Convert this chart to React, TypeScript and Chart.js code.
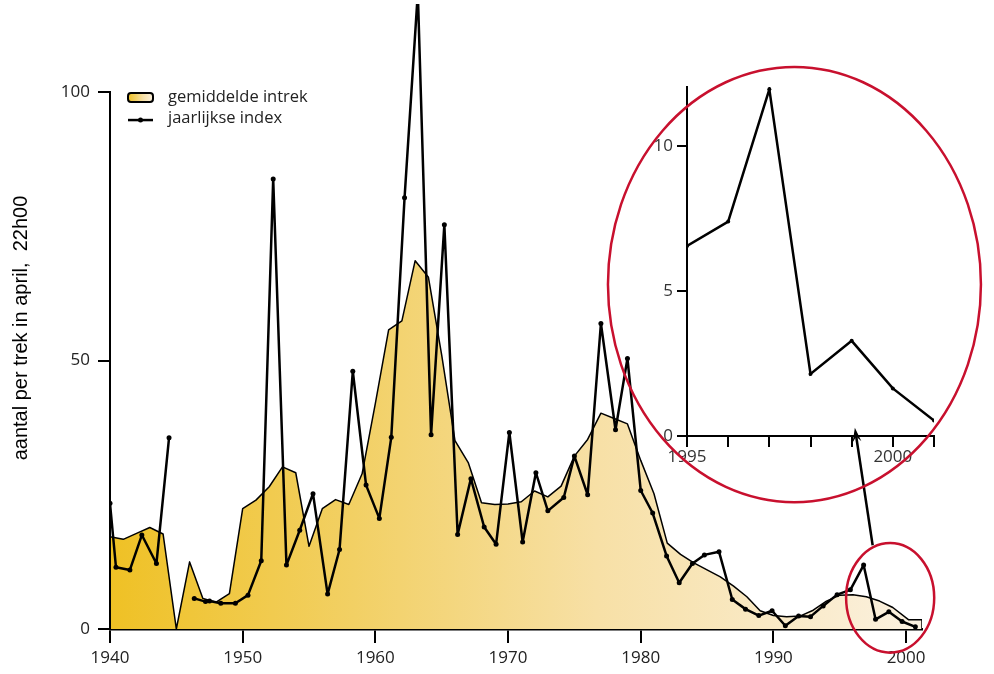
import React, { useEffect, useRef } from "react";
import { Chart, registerables } from "chart.js";

Chart.register(...registerables);

// ---- data: gemiddelde intrek (smoothed mean) ----
const areaYears = [1940, 1941, 1942, 1943, 1944, 1945, 1946, 1947, 1948, 1949, 1950, 1951, 1952, 1953, 1954, 1955, 1956, 1957, 1958, 1959, 1960, 1961, 1962, 1963, 1964, 1965, 1966, 1967, 1968, 1969, 1970, 1971, 1972, 1973, 1974, 1975, 1976, 1977, 1978, 1979, 1980, 1981, 1982, 1983, 1984, 1985, 1986, 1987, 1988, 1989, 1990, 1991, 1992, 1993, 1994, 1995, 1996, 1997, 1998, 1999, 2000.2, 2001.2, 2001.2];
const areaValues = [17.2, 16.7, 17.8, 18.9, 17.7, 0, 12.5, 5.7, 5.0, 6.6, 22.4, 24.0, 26.5, 30.2, 29.1, 15.4, 22.4, 24.1, 23.2, 28.9, 42.0, 55.7, 57.4, 68.6, 65.5, 51.0, 35.1, 31.0, 23.5, 23.2, 23.3, 23.7, 25.7, 24.6, 26.6, 32.2, 35.3, 40.2, 39.2, 38.2, 31.4, 25.2, 16.0, 13.9, 12.3, 11.0, 9.7, 8.0, 6.0, 3.4, 2.5, 2.3, 2.4, 3.5, 5.2, 6.3, 6.4, 6.0, 5.2, 4.0, 1.7, 1.7, 0];

// ---- data: jaarlijkse index (yearly index), positions ----
const indexYears = [1940.0, 1940.45, 1941.5, 1942.4, 1943.5, 1944.45, 1945.4, 1946.35, 1947.2, 1947.5, 1948.35, 1949.45, 1950.4, 1951.4, 1952.3, 1953.3, 1954.3, 1955.3, 1956.4, 1957.3, 1958.3, 1959.3, 1960.3, 1961.2, 1962.2, 1963.2, 1964.2, 1965.2, 1966.2, 1967.2, 1968.2, 1969.1, 1970.1, 1971.1, 1972.1, 1973.0, 1974.2, 1975.0, 1976.0, 1977.0, 1978.1, 1979.0, 1980.0, 1980.9, 1981.95, 1982.9, 1983.9, 1984.8, 1985.9, 1986.9, 1987.9, 1988.9, 1989.9, 1990.9, 1991.9, 1992.8, 1993.75, 1994.8, 1995.8, 1996.8, 1997.7, 1998.7, 1999.7, 2000.7];
const indexValues: (number | null)[] = [23.4, 11.5, 11.0, 17.5, 12.2, 35.6, null, 5.7, 5.1, 5.2, 4.8, 4.8, 6.3, 12.7, 83.8, 11.9, 18.4, 25.2, 6.5, 14.8, 48.0, 26.8, 20.6, 35.7, 80.3, 118.5, 36.2, 75.3, 17.6, 28.0, 19.0, 15.8, 36.6, 16.2, 29.1, 22.0, 24.5, 32.2, 25.0, 56.9, 37.1, 50.4, 25.8, 21.6, 13.6, 8.6, 12.2, 13.8, 14.4, 5.5, 3.7, 2.5, 3.4, 0.6, 2.4, 2.3, 4.3, 6.4, 7.3, 11.9, 1.8, 3.2, 1.4, 0.4];

const xTicks = [1940, 1950, 1960, 1970, 1980, 1990, 2000];
const yTicks = [0, 50, 100];

// ---- inset (1995-2001) ----
const insetYears = [1995, 1996, 1997, 1998, 1999, 2000, 2001];
const insetValues = [6.55, 7.39, 11.95, 2.14, 3.28, 1.64, 0.53];
const insetXTicks = [1995, 1996, 1997, 1998, 1999, 2000, 2001];
const insetXLabels = [1995, 2000];
const insetYTicks = [0, 5, 10];

const legendLabels = ["gemiddelde intrek", "jaarlijkse index"];
const yTitle = "aantal per trek in april,  22h00";

const TICK_FONT = { family: "'Open Sans', 'Noto Sans', sans-serif", size: 17 };
const RED = "#c8102e";

function makeGradient(ctx: CanvasRenderingContext2D, left: number, right: number) {
  const g = ctx.createLinearGradient(left, 0, right, 0);
  g.addColorStop(0, "#efc125");
  g.addColorStop(0.3, "#f2d064");
  g.addColorStop(0.6, "#f7e0a6");
  g.addColorStop(1, "#fbf1e0");
  return g;
}

export default function App() {
  const mainRef = useRef<HTMLCanvasElement>(null);
  const insetRef = useRef<HTMLCanvasElement>(null);

  useEffect(() => {
    const mainCanvas = mainRef.current!;
    const insetCanvas = insetRef.current!;

    const mainPlugin = {
      id: "mainDecor",
      afterDraw(chart: any) {
        const ctx: CanvasRenderingContext2D = chart.ctx;
        const xs = chart.scales.x;
        const ys = chart.scales.y;
        const area = chart.chartArea;
        ctx.save();
        // y axis line from 0 to 100
        ctx.strokeStyle = "#000";
        ctx.lineWidth = 2;
        ctx.beginPath();
        ctx.moveTo(area.left, ys.getPixelForValue(0) + 1);
        ctx.lineTo(area.left, ys.getPixelForValue(100) - 1);
        ctx.stroke();

        // legend
        const lx = area.left + 18;
        const ly1 = ys.getPixelForValue(100) + 5;
        const ly2 = ly1 + 23;
        ctx.beginPath();
        (ctx as any).roundRect(lx, ly1 - 4, 25, 9, 3);
        ctx.fillStyle = makeGradient(ctx, lx, lx + 25);
        ctx.fill();
        ctx.lineWidth = 2;
        ctx.strokeStyle = "#000";
        ctx.stroke();
        ctx.beginPath();
        ctx.lineWidth = 2.5;
        ctx.moveTo(lx, ly2);
        ctx.lineTo(lx + 25, ly2);
        ctx.stroke();
        ctx.beginPath();
        ctx.arc(lx + 12.5, ly2, 2.5, 0, Math.PI * 2);
        ctx.fillStyle = "#000";
        ctx.fill();
        ctx.font = "16.5px 'Open Sans', 'Noto Sans', sans-serif";
        ctx.fillStyle = "#222";
        ctx.textBaseline = "middle";
        ctx.textAlign = "left";
        ctx.fillText(legendLabels[0], lx + 40, ly1);
        ctx.fillText(legendLabels[1], lx + 40, ly2 - 2);

        // y title
        ctx.save();
        ctx.translate(21, 328);
        ctx.rotate(-Math.PI / 2);
        ctx.font = "20px 'Liberation Sans', Arial, sans-serif";
        ctx.fillStyle = "#000";
        ctx.textAlign = "center";
        ctx.textBaseline = "middle";
        ctx.fillText(yTitle, 0, 0);
        ctx.restore();

        // small ellipse around 1996-2001
        const cx = xs.getPixelForValue(1998.8);
        const cy = ys.getPixelForValue(5.8);
        const rx = xs.getPixelForValue(1998.8 + 3.32) - cx;
        const ry = cy - ys.getPixelForValue(5.8 + 10.2);
        ctx.beginPath();
        ctx.ellipse(cx, cy, rx, ry, 0, 0, Math.PI * 2);
        ctx.strokeStyle = RED;
        ctx.lineWidth = 2.5;
        ctx.stroke();

        // arrow
        const ax0 = xs.getPixelForValue(1997.48);
        const ay0 = ys.getPixelForValue(15.6);
        const ax1 = xs.getPixelForValue(1996.14);
        const ay1 = ys.getPixelForValue(37.5);
        ctx.strokeStyle = "#000";
        ctx.lineWidth = 2.5;
        ctx.beginPath();
        ctx.moveTo(ax0, ay0);
        ctx.lineTo(ax1 + (ax0 - ax1) * 0.05, ay1 + (ay0 - ay1) * 0.05);
        ctx.stroke();
        const ang = Math.atan2(ay1 - ay0, ax1 - ax0);
        const hl = 15;
        ctx.beginPath();
        ctx.moveTo(ax1, ay1);
        ctx.lineTo(ax1 - hl * Math.cos(ang - 0.3), ay1 - hl * Math.sin(ang - 0.3));
        ctx.lineTo(ax1 - hl * 0.6 * Math.cos(ang), ay1 - hl * 0.6 * Math.sin(ang));
        ctx.lineTo(ax1 - hl * Math.cos(ang + 0.3), ay1 - hl * Math.sin(ang + 0.3));
        ctx.closePath();
        ctx.fillStyle = "#000";
        ctx.fill();
        ctx.restore();
      },
    };

    const main = new Chart(mainCanvas, {
      type: "line",
      data: {
        datasets: [
          {
            label: legendLabels[1],
            data: indexYears.map((x, i) => ({ x, y: indexValues[i] })) as any,
            borderColor: "#000",
            borderWidth: 2.5,
            borderJoinStyle: "round",
            pointRadius: 2.5,
            pointBackgroundColor: "#000",
            pointBorderWidth: 0,
            fill: false,
            spanGaps: false,
            tension: 0,
            order: 1,
          },
          {
            label: legendLabels[0],
            data: areaYears.map((x, i) => ({ x, y: areaValues[i] })),
            borderColor: "#000",
            borderWidth: 1.5,
            borderJoinStyle: "round",
            pointRadius: 0,
            fill: "origin",
            tension: 0,
            order: 2,
            backgroundColor: (c: any) => {
              const a = c.chart.chartArea;
              if (!a) return "#f3d47a";
              return makeGradient(c.chart.ctx, a.left, a.right);
            },
          },
        ],
      },
      options: {
        animation: false,
        responsive: false,
        maintainAspectRatio: false,
        layout: { padding: { left: 0, right: 72, top: 0, bottom: 0 } },
        plugins: { legend: { display: false }, tooltip: { enabled: false } },
        scales: {
          x: {
            type: "linear",
            min: 1940,
            max: 2001.2,
            afterBuildTicks: (s: any) => {
              s.ticks = xTicks.map((v) => ({ value: v }));
            },
            afterFit: (s: any) => {
              s.height = 45;
            },
            grid: { drawOnChartArea: false, drawTicks: true, tickLength: 14, color: "#000", lineWidth: 2 },
            border: { display: true, color: "#000", width: 2.5 },
            ticks: {
              callback: (v: any) => String(v),
              font: TICK_FONT,
              color: "#222",
              padding: 5,
              maxRotation: 0,
              autoSkip: false,
            },
          },
          y: {
            type: "linear",
            min: 0,
            max: 116.4,
            afterBuildTicks: (s: any) => {
              s.ticks = yTicks.map((v) => ({ value: v }));
            },
            afterFit: (s: any) => {
              s.width = 110;
              s.paddingTop = 0;
              s.paddingBottom = 0;
            },
            grid: { drawOnChartArea: false, drawTicks: true, tickLength: 12, color: "#000", lineWidth: 2 },
            border: { display: false },
            ticks: {
              callback: (v: any) => String(v),
              font: TICK_FONT,
              color: "#222",
              padding: 8,
              autoSkip: false,
            },
          },
        },
      },
      plugins: [mainPlugin],
    } as any);

    const insetPlugin = {
      id: "insetDecor",
      afterDraw(chart: any) {
        const ctx: CanvasRenderingContext2D = chart.ctx;
        const xs = chart.scales.x;
        const ys = chart.scales.y;
        ctx.save();
        const cx = xs.getPixelForValue(1997.61);
        const cy = ys.getPixelForValue(5.22);
        const rx = xs.getPixelForValue(1997.61 + 4.53) - cx;
        const ry = cy - ys.getPixelForValue(5.22 + 7.5);
        ctx.beginPath();
        ctx.ellipse(cx, cy, rx, ry, 0, 0, Math.PI * 2);
        ctx.strokeStyle = RED;
        ctx.lineWidth = 2.5;
        ctx.stroke();
        ctx.restore();
      },
    };

    const inset = new Chart(insetCanvas, {
      type: "line",
      data: {
        datasets: [
          {
            data: insetYears.map((x, i) => ({ x, y: insetValues[i] })),
            borderColor: "#000",
            borderWidth: 2.5,
            pointRadius: 2,
            pointBackgroundColor: "#000",
            pointBorderWidth: 0,
            fill: false,
            tension: 0,
          },
        ],
      },
      options: {
        animation: false,
        responsive: false,
        maintainAspectRatio: false,
        layout: { padding: { left: 0, right: 60, top: 37, bottom: 0 } },
        plugins: { legend: { display: false }, tooltip: { enabled: false } },
        scales: {
          x: {
            type: "linear",
            min: 1995,
            max: 2001,
            afterBuildTicks: (s: any) => {
              s.ticks = insetXTicks.map((v) => ({ value: v }));
            },
            afterFit: (s: any) => {
              s.height = 84;
            },
            grid: { drawOnChartArea: false, drawTicks: true, tickLength: 11, color: "#000", lineWidth: 2 },
            border: { display: true, color: "#000", width: 2 },
            ticks: {
              callback: (v: any) => (insetXLabels.includes(v) ? String(v) : ""),
              font: TICK_FONT,
              color: "#333",
              padding: 0,
              maxRotation: 0,
              autoSkip: false,
            },
          },
          y: {
            type: "linear",
            min: 0,
            max: 12.03,
            afterBuildTicks: (s: any) => {
              s.ticks = insetYTicks.map((v) => ({ value: v }));
            },
            afterFit: (s: any) => {
              s.width = 87;
              s.paddingTop = 0;
              s.paddingBottom = 0;
            },
            grid: { drawOnChartArea: false, drawTicks: true, tickLength: 10, color: "#000", lineWidth: 2 },
            border: { display: true, color: "#000", width: 2 },
            ticks: {
              callback: (v: any) => String(v),
              font: TICK_FONT,
              color: "#333",
              padding: 4,
              autoSkip: false,
            },
          },
        },
      },
      plugins: [insetPlugin],
    } as any);

    return () => {
      main.destroy();
      inset.destroy();
    };
  }, []);

  return (
    <div style={{ position: "fixed", left: 0, top: 0, width: 994, height: 674, background: "#fff" }}>
      <canvas ref={mainRef} width={994} height={674} style={{ position: "absolute", left: 0, top: 0, width: 994, height: 674 }} />
      <canvas ref={insetRef} width={394} height={470} style={{ position: "absolute", left: 600, top: 50, width: 394, height: 470 }} />
    </div>
  );
}
